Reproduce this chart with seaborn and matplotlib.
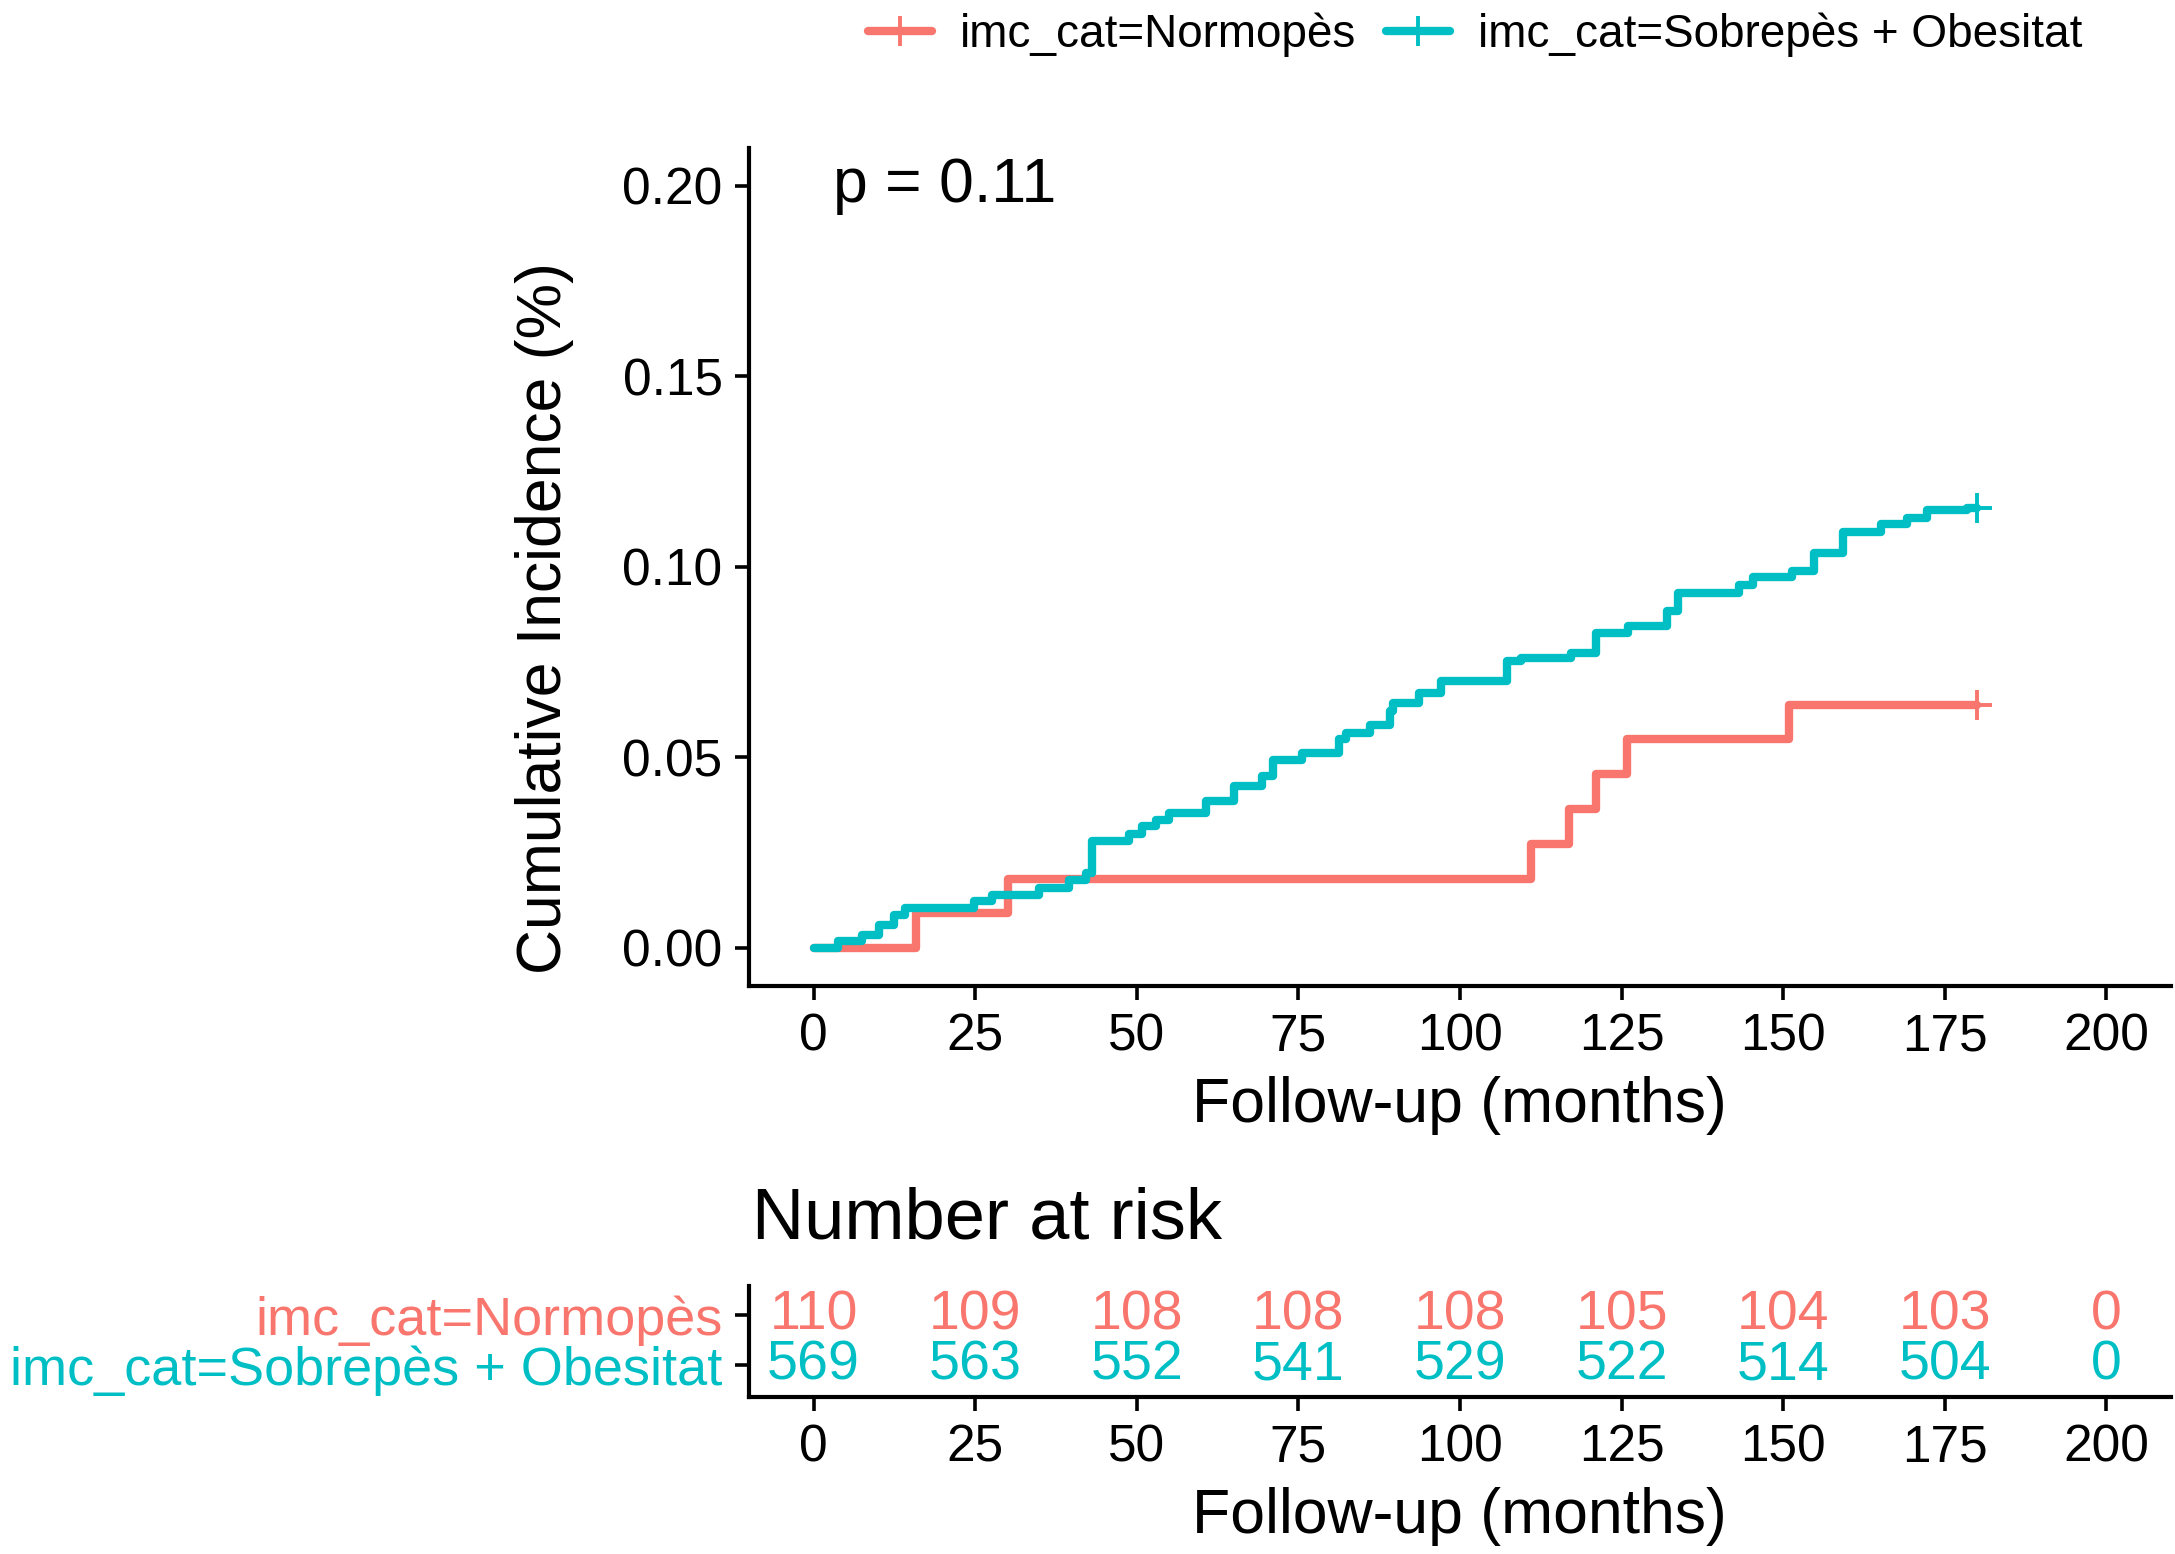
import numpy as np
import pandas as pd
import matplotlib
matplotlib.use("Agg")
import matplotlib.pyplot as plt
from matplotlib.lines import Line2D
import seaborn as sns

# --- data ---
groups = ["imc_cat=Normopès", "imc_cat=Sobrepès + Obesitat"]
colors = ["#F8766D", "#00BFC4"]

normo_time = [0, 15.9, 30.0, 111.0, 116.9, 121.1, 125.9, 150.9, 180.0]
normo_inc = [0, 0.0091, 0.0182, 0.0273, 0.0364, 0.0455, 0.0548, 0.0636, 0.0636]

sobre_time = [0, 3.7, 7.5, 10.1, 12.4, 14.2, 24.8, 27.6, 34.9, 39.5, 42.1, 43.1,
              48.8, 50.8, 52.9, 55.0, 60.7, 65.1, 69.4, 71.0, 75.6, 81.3, 82.4,
              86.0, 89.1, 89.6, 93.7, 97.1, 107.2, 109.4, 117.1, 121.0, 126.0,
              132.1, 133.7, 143.1, 145.3, 151.4, 154.7, 159.2, 165.2, 169.1,
              172.2, 178.5, 180.0]
sobre_inc = [0, 0.0017, 0.0034, 0.0060, 0.0087, 0.0104, 0.0122, 0.0139, 0.0157,
             0.0179, 0.0197, 0.0280, 0.0300, 0.0320, 0.0336, 0.0354, 0.0385,
             0.0424, 0.0450, 0.0494, 0.0512, 0.0547, 0.0564, 0.0586, 0.0621,
             0.0643, 0.0669, 0.0700, 0.0752, 0.0761, 0.0774, 0.0827, 0.0844,
             0.0884, 0.0932, 0.0951, 0.0972, 0.0989, 0.1037, 0.1090, 0.1112,
             0.1129, 0.1149, 0.1155, 0.1155]

risk_times = [0, 25, 50, 75, 100, 125, 150, 175, 200]
risk_normo = [110, 109, 108, 108, 108, 105, 104, 103, 0]
risk_sobre = [569, 563, 552, 541, 529, 522, 514, 504, 0]

p_label = "p = 0.11"

curves = pd.concat([
    pd.DataFrame({"time": normo_time, "inc": normo_inc, "group": groups[0]}),
    pd.DataFrame({"time": sobre_time, "inc": sobre_inc, "group": groups[1]}),
])
censor = curves.groupby("group", sort=False).tail(1)

sns.set_theme(style="ticks")
plt.rcParams["font.family"] = ["Liberation Sans", "DejaVu Sans"]
plt.rcParams.update({
    "axes.linewidth": 3.0,
    "axes.edgecolor": "black",
    "text.color": "black",
    "axes.labelcolor": "black",
    "xtick.color": "black",
    "ytick.color": "black",
})

W, H = 2175, 1554
fig = plt.figure(figsize=(W / 100, H / 100), dpi=100)
palette = dict(zip(groups, colors))
LW = 6.0

# --- main curve panel ---
ax = fig.add_axes([749 / W, (H - 986) / H, (2171 - 749) / W, (986 - 147.5) / H])
sns.lineplot(data=curves, x="time", y="inc", hue="group", palette=palette,
             estimator=None, drawstyle="steps-post", linewidth=LW, ax=ax,
             legend=False)
for g, row in censor.set_index("group").iterrows():
    ax.plot(row["time"], row["inc"], marker="+", markersize=22,
            markeredgewidth=2.8, color=palette[g], linestyle="none")

ax.set_xlim(-10, 210)
ax.set_ylim(-0.01, 0.21)
ax.set_xticks(risk_times)
ax.set_yticks([0, 0.05, 0.10, 0.15, 0.20])
ax.set_yticklabels(["0.00", "0.05", "0.10", "0.15", "0.20"])
ax.tick_params(axis="both", labelsize=37, length=10, width=2.6, pad=9)
ax.set_xlabel("Follow-up (months)", fontsize=45)
ax.set_ylabel("Cumulative Incidence (%)", fontsize=45)
ax.xaxis.set_label_coords(0.4993, -0.142)
ax.xaxis.label.set_va("center")
ax.yaxis.set_label_coords(-0.1435, 0.439)
ax.yaxis.label.set_va("center")
ax.text(3.0, 0.20, p_label, fontsize=45, va="center", ha="left")
sns.despine(ax=ax)

handles = [Line2D([], [], color=c, linewidth=LW, marker="+", markersize=22,
                  markeredgewidth=2.8) for c in colors]
fig.legend(handles, groups, loc="center", bbox_to_anchor=(1475 / W, 1 - 35 / H),
           ncol=2, frameon=False, fontsize=33, handlelength=1.4,
           handletextpad=0.6, columnspacing=0.65)

# --- number at risk table ---
rax = fig.add_axes([749 / W, (H - 1397) / H, (2171 - 749) / W, (1397 - 1286) / H])
risk = pd.concat([
    pd.DataFrame({"time": risk_times, "n": risk_normo, "row": 2, "group": groups[0]}),
    pd.DataFrame({"time": risk_times, "n": risk_sobre, "row": 1, "group": groups[1]}),
])
for _, r in risk.iterrows():
    rax.text(r["time"], r["row"], str(r["n"]), color=palette[r["group"]],
             fontsize=40, ha="center", va="center")
rax.set_xlim(-10, 210)
rax.set_ylim(0.36, 2.58)
rax.set_xticks(risk_times)
rax.set_yticks([2, 1])
rax.set_yticklabels(groups)
for lab, c in zip(rax.get_yticklabels(), colors):
    lab.set_color(c)
rax.tick_params(axis="x", labelsize=37, length=10, width=2.6, pad=9)
rax.tick_params(axis="y", labelsize=39, length=10, width=2.6, pad=9)
rax.set_xlabel("Follow-up (months)", fontsize=45)
rax.xaxis.set_label_coords(0.4993, -1.081)
rax.xaxis.label.set_va("center")
sns.despine(ax=rax)

fig.text(752 / W, 1 - 1220 / H, "Number at risk", fontsize=52, ha="left",
         va="center")

fig.savefig("out.png", dpi=100, facecolor="white")
